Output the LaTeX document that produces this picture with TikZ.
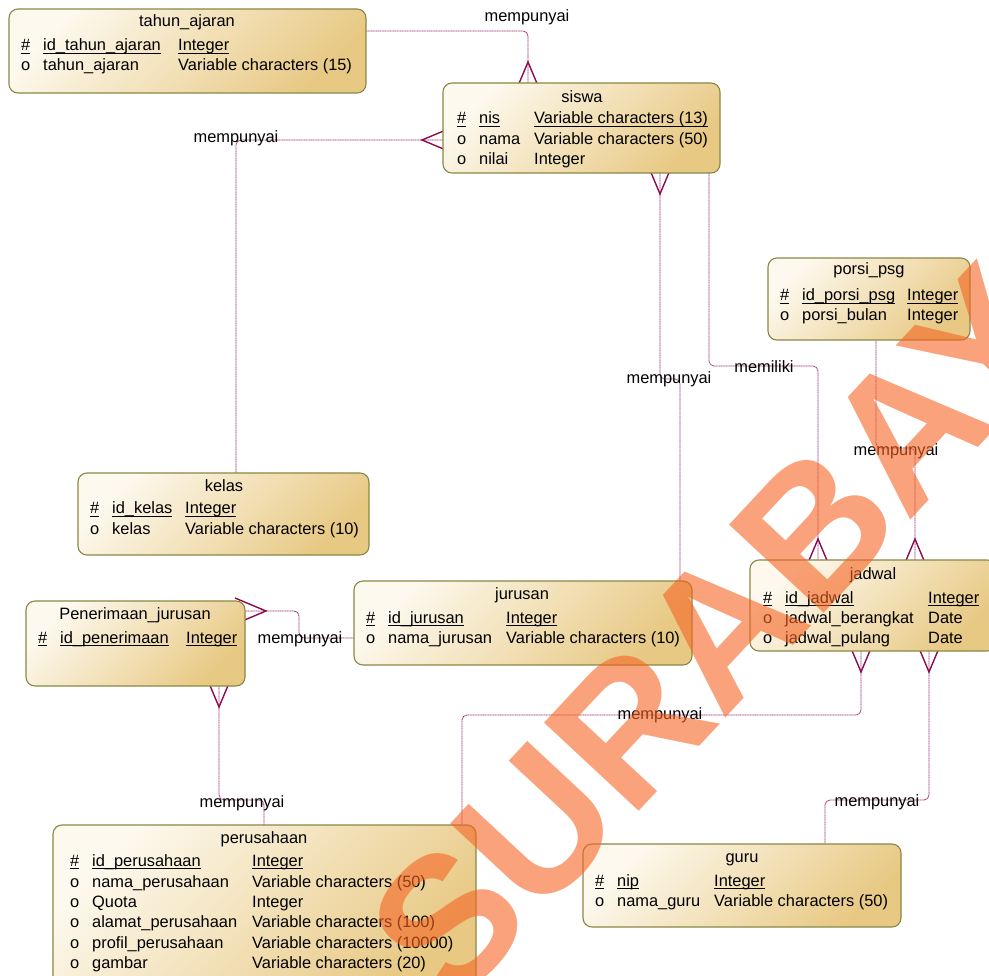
\documentclass[tikz,border=0pt]{standalone}
\usepackage{fontspec}
\setmainfont{Liberation Sans}
\usetikzlibrary{calc}

\definecolor{boxlight}{RGB}{253,249,238}
\definecolor{boxdark}{RGB}{232,201,132}
\definecolor{boxedge}{RGB}{138,136,70}
\definecolor{linkcol}{RGB}{160,45,110}
\definecolor{footcol}{RGB}{138,12,78}
\definecolor{wmorange}{RGB}{245,100,35}

% underline used for primary-key attributes
\newcommand\keyul[1]{\setbox0\hbox{#1}\rlap{\rule[-2.6pt]{\wd0}{0.9pt}}\box0}

% one attribute row: id, baseline y, x of marker/name/type, marker, name, type
\newcommand\erow[8]{%
  \node[txt] (#1m) at (#3,#2) {#6};
  \node[txt] (#1n) at (#4,#2) {#7};
  \node[txt] (#1t) at (#5,#2) {#8};}

% crow's foot: edge point, rotation (0 = apex above the edge)
\newcommand\crowfoot[2]{%
  \draw[foot, shift={#1}, rotate=#2] (-13,10) -- (0,-21) -- (13,10);}

% shaded rounded box over the area of an entity node
\newcommand\entitybox[1]{%
  \draw[boxlook] (#1.north west) rectangle (#1.south east);}

\tikzset{
  entity/.style={inner sep=0pt, outer sep=0pt, anchor=north west},
  boxlook/.style={draw=boxedge, line width=1.1pt, rounded corners=9pt,
    top color=boxlight, bottom color=boxdark, shading angle=45},
  txt/.style={anchor=base west, inner sep=0pt, font=\fontsize{16.4}{19}\selectfont},
  title/.style={anchor=base, inner sep=0pt, font=\fontsize{16.4}{19}\selectfont},
  rel/.style={anchor=base, inner sep=0pt, font=\fontsize{16.4}{19}\selectfont},
  conn/.style={draw=linkcol, line width=0.8pt, dash pattern=on 1.2pt off 0.5pt, rounded corners=5pt},
  foot/.style={draw=footcol, line width=1.4pt, line join=miter},
  wm/.style={anchor=base west, rotate=47, inner sep=0pt, text=wmorange, text opacity=0.6,
    font=\fontsize{188}{188}\selectfont\bfseries}
}

\begin{document}
\begin{tikzpicture}[x=1pt, y=-1pt]
\useasboundingbox (0,0) rectangle (989,976);
\fill[white] (0,0) rectangle (989,976);
\clip (0,0) rectangle (989,976);

% ---------- entity areas ----------
\path
  node[entity, minimum width=357, minimum height=84] (ta) at (9,9) {}
  node[entity, minimum width=277, minimum height=90] (siswa) at (443,83) {}
  node[entity, minimum width=202, minimum height=82] (porsi) at (768,258) {}
  node[entity, minimum width=291, minimum height=82] (kelas) at (78,473) {}
  node[entity, minimum width=219, minimum height=85] (pen) at (26,601) {}
  node[entity, minimum width=338, minimum height=84] (jurusan) at (354,581) {}
  node[entity, minimum width=246, minimum height=91] (jadwal) at (750,560) {}
  node[entity, minimum width=423, minimum height=165] (perusahaan) at (53,825) {}
  node[entity, minimum width=318, minimum height=83] (guru) at (583,844) {};

% ---------- relationships ----------
\draw[conn] ($(ta.north east)+(0,22)$) -| ($(siswa.north west)+(85,0)$);
\draw[conn] ($(siswa.north west)+(0,57)$) -| ($(kelas.north west)+(158,0)$);
\draw[conn] ($(siswa.south west)+(217,0)$) -- ++(0,206) -| ($(jurusan.north west)+(326,0)$);
\draw[conn] ($(siswa.south west)+(266,0)$) -- ++(0,193) -| ($(jadwal.north west)+(68,0)$);
\draw[conn] ($(porsi.south west)+(108,0)$) -- ++(0,108) -| ($(jadwal.north west)+(165,0)$);
\draw[conn] ($(jadwal.south west)+(111,0)$) -- ++(0,64) -| ($(perusahaan.north west)+(409,0)$);
\draw[conn] ($(jadwal.south west)+(179,0)$) -- ++(0,149) -| ($(guru.north west)+(242,0)$);
\draw[conn] ($(jurusan.north west)+(0,57)$) -- ++(-55,0) |- ($(pen.north east)+(0,10)$);
\draw[conn] ($(pen.south west)+(193,0)$) -- ++(0,114) -| ($(perusahaan.north west)+(211,0)$);

\crowfoot{($(siswa.north west)+(85,0)$)}{0}
\crowfoot{($(siswa.north west)+(0,57)$)}{90}
\crowfoot{($(siswa.south west)+(217,0)$)}{180}
\crowfoot{($(jadwal.north west)+(68,0)$)}{0}
\crowfoot{($(jadwal.north west)+(165,0)$)}{0}
\crowfoot{($(jadwal.south west)+(111,0)$)}{180}
\crowfoot{($(jadwal.south west)+(179,0)$)}{180}
\crowfoot{($(pen.north east)+(0,10)$)}{-90}
\crowfoot{($(pen.south west)+(193,0)$)}{180}

% boxes, covering the inner ends of the crow's feet
\entitybox{ta}
\entitybox{siswa}
\entitybox{porsi}
\entitybox{kelas}
\entitybox{pen}
\entitybox{jurusan}
\entitybox{jadwal}
\entitybox{perusahaan}
\entitybox{guru}

% ---------- relationship names ----------
\node[rel] (l1) at (527,22) {mempunyai};
\node[rel] (l2) at (236,143) {mempunyai};
\node[rel] (l3) at (669,384) {mempunyai};
\node[rel] (l4) at (764,373) {memiliki};
\node[rel] (l5) at (896,456) {mempunyai};
\node[rel] (l6) at (660,719) {mempunyai};
\node[rel] (l7) at (877,806) {mempunyai};
\node[rel] (l8) at (300,643) {mempunyai};
\node[rel] (l9) at (242,807) {mempunyai};

% ---------- entity contents ----------
\node[title] (tat) at (187,27) {tahun\_ajaran};
\erow{ta1}{51}{21}{43}{178}{\keyul{\#}}{\keyul{id\_tahun\_ajaran}}{\keyul{Integer}}
\erow{ta2}{71}{21}{43}{178}{o}{tahun\_ajaran}{Variable characters (15)}

\node[title] (sit) at (582,103) {siswa};
\erow{si1}{124}{457}{479}{534}{\keyul{\#}}{\keyul{nis}}{\keyul{Variable characters (13)}}
\erow{si2}{145}{457}{479}{534}{o}{nama}{Variable characters (50)}
\erow{si3}{165}{457}{479}{534}{o}{nilai}{Integer}

\node[title] (pot) at (869,275) {porsi\_psg};
\erow{po1}{301}{780}{802}{907}{\keyul{\#}}{\keyul{id\_porsi\_psg}}{\keyul{Integer}}
\erow{po2}{321}{780}{802}{907}{o}{porsi\_bulan}{Integer}

\node[title] (ket) at (224,492) {kelas};
\erow{ke1}{514}{90}{112}{185}{\keyul{\#}}{\keyul{id\_kelas}}{\keyul{Integer}}
\erow{ke2}{534}{90}{112}{185}{o}{kelas}{Variable characters (10)}

\node[title] (pet) at (135,619) {Penerimaan\_jurusan};
\erow{pe1}{643}{38}{60}{186}{\keyul{\#}}{\keyul{id\_penerimaan}}{\keyul{Integer}}

\node[title] (jut) at (522,599) {jurusan};
\erow{ju1}{623}{366}{388}{506}{\keyul{\#}}{\keyul{id\_jurusan}}{\keyul{Integer}}
\erow{ju2}{643}{366}{388}{506}{o}{nama\_jurusan}{Variable characters (10)}

\node[title] (jat) at (873,579) {jadwal};
\erow{ja1}{603}{763}{785}{928}{\keyul{\#}}{\keyul{id\_jadwal}}{\keyul{Integer}}
\erow{ja2}{623}{763}{785}{928}{o}{jadwal\_berangkat}{Date}
\erow{ja3}{643}{763}{785}{928}{o}{jadwal\_pulang}{Date}

\node[title] (prt) at (264,843) {perusahaan};
\erow{pr1}{866}{70}{92}{252}{\keyul{\#}}{\keyul{id\_perusahaan}}{\keyul{Integer}}
\erow{pr2}{887}{70}{92}{252}{o}{nama\_perusahaan}{Variable characters (50)}
\erow{pr3}{907}{70}{92}{252}{o}{Quota}{Integer}
\erow{pr4}{927}{70}{92}{252}{o}{alamat\_perusahaan}{Variable characters (100)}
\erow{pr5}{948}{70}{92}{252}{o}{profil\_perusahaan}{Variable characters (10000)}
\erow{pr6}{968}{70}{92}{252}{o}{gambar}{Variable characters (20)}

\node[title] (gut) at (742,862) {guru};
\erow{gu1}{886}{595}{617}{714}{\keyul{\#}}{\keyul{nip}}{\keyul{Integer}}
\erow{gu2}{906}{595}{617}{714}{o}{nama\_guru}{Variable characters (50)}

% ---------- watermark ----------
\node[wm] (wmark) at (452,1012) {SURABAYA};
\end{tikzpicture}
\end{document}
